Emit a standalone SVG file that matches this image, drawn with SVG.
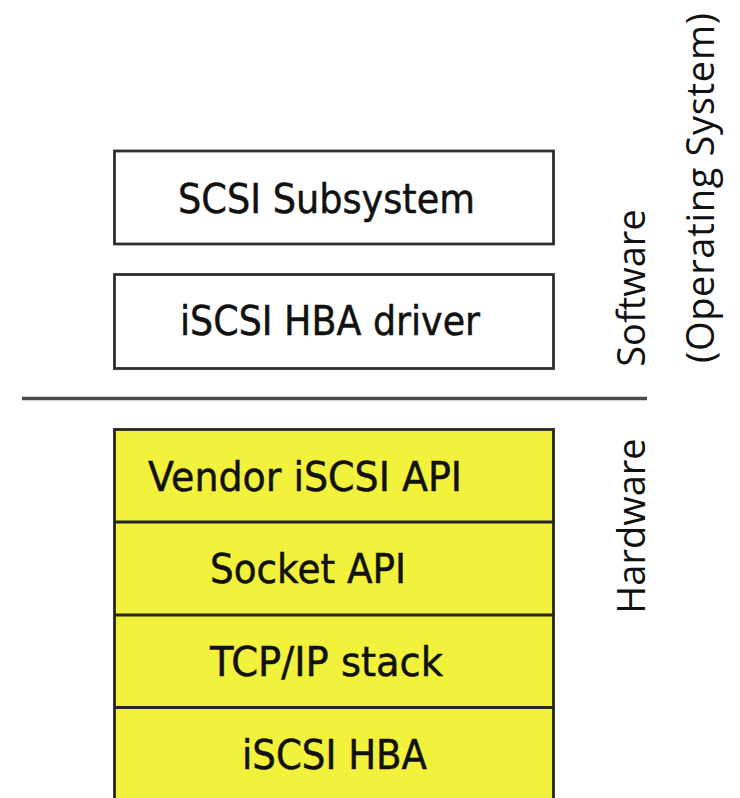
<svg xmlns="http://www.w3.org/2000/svg" width="740" height="798" viewBox="0 0 740 798">
  <style>
    .box { fill: #ffffff; stroke: #2e2e2e; stroke-width: 2.8; }
    .hw { fill: #f2f23c; stroke: #262626; stroke-width: 2.8; }
    .sep { stroke: #262626; stroke-width: 2.8; }
    .lbl { font-family: "DejaVu Sans", "Liberation Sans", sans-serif; font-size: 40px; fill: #111111; stroke: #111111; stroke-width: 0.5; }
    .side { font-family: "Open Sans", "Noto Sans", sans-serif; font-size: 38px; fill: #111111; text-anchor: middle; }
  </style>

  <!-- software / hardware boundary -->
  <g id="connectors">
    <line x1="22" y1="398.5" x2="647" y2="398.5" stroke="#4a4a4a" stroke-width="3.5"/>
  </g>

  <!-- operating system layers -->
  <g id="scsi-subsystem">
    <rect class="box" x="114.5" y="151" width="439" height="93"/>
    <text class="lbl" x="178" y="213" textLength="297" lengthAdjust="spacingAndGlyphs">SCSI Subsystem</text>
  </g>
  <g id="hba-driver">
    <rect class="box" x="114.5" y="274.5" width="439" height="94"/>
    <text class="lbl" x="180" y="335" textLength="300" lengthAdjust="spacingAndGlyphs">iSCSI HBA driver</text>
  </g>

  <!-- hardware stack -->
  <g id="hardware-stack">
    <rect class="hw" x="114.5" y="429.5" width="439" height="380"/>
  </g>
  <g id="vendor-api">
    <text class="lbl" x="148" y="491" textLength="314" lengthAdjust="spacingAndGlyphs">Vendor iSCSI API</text>
  </g>
  <g id="socket-api">
    <line class="sep" x1="114.5" y1="522" x2="553.5" y2="522"/>
    <text class="lbl" x="210" y="583" textLength="196" lengthAdjust="spacingAndGlyphs">Socket API</text>
  </g>
  <g id="tcpip-stack">
    <line class="sep" x1="114.5" y1="615" x2="553.5" y2="615"/>
    <text class="lbl" x="210" y="676" textLength="233" lengthAdjust="spacingAndGlyphs">TCP/IP stack</text>
  </g>
  <g id="iscsi-hba">
    <line class="sep" x1="114.5" y1="707.5" x2="553.5" y2="707.5"/>
    <text class="lbl" x="242" y="769" textLength="185" lengthAdjust="spacingAndGlyphs">iSCSI HBA</text>
  </g>

  <!-- side captions -->
  <g id="software-label">
    <text class="side" transform="translate(645,288) rotate(-90)">Software</text>
  </g>
  <g id="os-label">
    <text class="side" transform="translate(714,188) rotate(-90)" textLength="350" lengthAdjust="spacing">(Operating System)</text>
  </g>
  <g id="hardware-label">
    <text class="side" transform="translate(645,526) rotate(-90)">Hardware</text>
  </g>
</svg>
